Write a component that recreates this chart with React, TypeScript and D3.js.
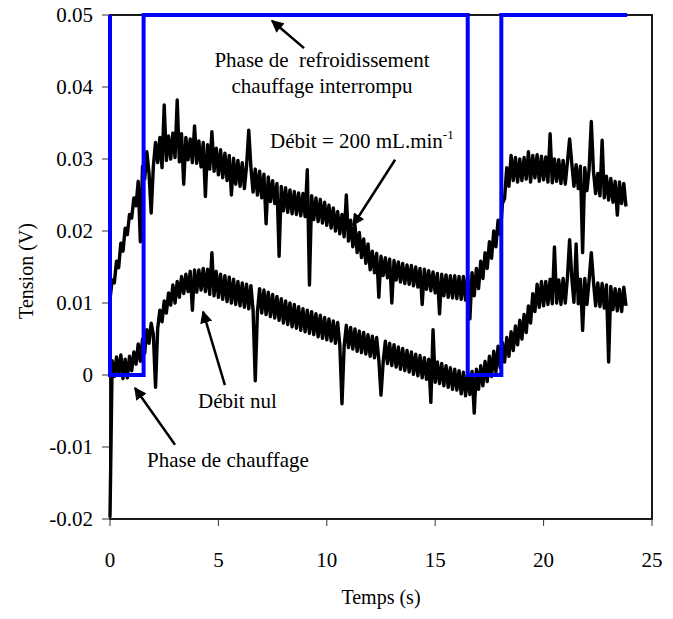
import React, { useEffect, useRef } from "react";
import * as d3 from "d3";

// sampling step of the recorded traces (s)
const step = 0.1;

// Débit = 200 mL/min, tension in mV
const flowSeries = [
  10.5, 13.2, 12.8, 15.8, 14.9, 18.3, 17.2, 20.4, 19.5, 22.3,
  21.8, 24.6, 23.5, 26.9, 18.5, 29.0, 27.2, 31.0, 28.0, 22.5,
  29.0, 32.3, 29.5, 33.0, 28.8, 37.5, 29.8, 33.2, 30.0, 33.6,
  30.2, 38.2, 29.6, 33.5, 26.5, 33.0, 29.9, 32.8, 29.5, 34.6,
  29.4, 32.5, 28.9, 32.3, 24.8, 32.0, 28.6, 33.8, 28.3, 31.5,
  27.8, 31.3, 27.4, 30.8, 27.0, 30.5, 25.0, 30.1, 26.5, 29.8,
  26.2, 29.5, 25.9, 29.1, 34.0, 28.8, 25.4, 28.6, 25.0, 28.3,
  24.6, 27.9, 21.0, 27.5, 24.1, 27.0, 23.8, 26.6, 16.5, 26.2,
  22.8, 26.0, 22.6, 25.7, 22.4, 25.5, 22.3, 25.3, 22.1, 25.2,
  22.0, 28.5, 12.5, 24.9, 21.6, 24.6, 21.3, 24.4, 21.1, 24.0,
  20.8, 23.6, 20.4, 23.2, 20.0, 22.7, 19.6, 22.3, 19.2, 25.0,
  18.6, 21.5, 17.8, 20.8, 17.0, 19.8, 16.3, 18.9, 15.5, 18.2,
  14.6, 17.2, 14.2, 16.9, 10.8, 16.5, 13.8, 16.3, 13.5, 16.1,
  10.0, 15.9, 13.2, 15.7, 12.9, 15.5, 12.7, 15.3, 12.6, 15.2,
  12.4, 15.0, 12.2, 14.8, 9.8, 14.7, 11.9, 14.5, 11.7, 14.3,
  11.4, 14.1, 8.5, 14.0, 11.0, 13.9, 10.8, 13.8, 10.7, 13.8,
  10.6, 13.7, 10.5, 13.7, 10.4, 13.8, 7.8, 14.2, 11.0, 14.8,
  12.0, 15.8, 13.4, 17.0, 14.8, 18.5, 16.2, 20.0, 17.8, 21.5,
  19.5, 23.8, 24.5, 28.8, 26.2, 30.5, 27.0, 30.2, 26.8, 30.0,
  27.0, 30.2, 27.2, 31.0, 26.8, 30.5, 27.4, 30.6, 26.9, 30.4,
  27.1, 30.3, 26.8, 33.5, 26.7, 30.0, 26.9, 29.9, 26.6, 29.8,
  26.5, 29.6, 32.8, 29.4, 26.2, 29.2, 25.9, 29.0, 17.0, 28.8,
  25.6, 28.6, 35.2, 28.3, 25.2, 28.0, 24.9, 32.6, 24.6, 27.6,
  24.3, 27.3, 24.0, 26.9, 22.2, 26.8, 23.8, 26.6, 23.4,
];

// Débit nul, tension in mV
const noFlowSeries = [
  -19.8, 2.0, -0.2, 2.5, 0.2, 2.8, -0.5, 2.2, -0.4, 2.6,
  0.6, 3.2, 1.5, 4.3, 1.9, 5.0, 3.0, 6.3, 4.4, 7.2,
  5.6, -1.7, 6.5, 9.0, 7.4, 10.3, 8.6, 11.4, 9.7, 12.5,
  10.0, 13.0, 10.8, 13.7, 11.3, 14.0, 11.6, 14.4, 9.0, 14.6,
  11.5, 14.6, 11.8, 14.8, 11.6, 14.7, 11.2, 17.0, 11.0, 14.4,
  10.8, 14.0, 10.5, 13.8, 10.2, 13.6, 10.0, 13.3, 9.8, 13.0,
  9.6, 12.8, 9.4, 12.6, 9.2, 12.4, 9.0, -0.8, 8.8, 12.0,
  8.6, 11.8, 8.4, 11.5, 8.1, 11.2, 7.9, 10.9, 7.6, 10.6,
  7.2, 10.3, 7.0, 10.0, 6.7, 9.8, 6.5, 9.5, 6.2, 9.2,
  6.0, 9.0, 5.8, 8.8, 5.6, 8.5, 5.3, 8.3, 5.1, 8.0,
  4.9, 7.8, 4.7, 7.5, 4.4, 7.3, 4.2, -4.0, 4.0, 6.9,
  3.8, 6.6, 3.6, 6.4, 3.3, 6.1, 3.1, 5.9, 2.9, 5.6,
  2.6, 5.4, 2.4, 5.2, 2.1, -2.8, 1.8, 4.7, 1.6, 4.4,
  1.3, 4.2, 1.1, 3.9, 0.8, 3.7, 0.6, 3.4, 0.4, 3.2,
  0.1, 2.9, -0.1, 2.7, -0.4, 2.4, -0.6, 2.2, -3.8, 6.3,
  -1.0, 1.8, -1.2, 1.6, -1.5, 1.3, -1.7, 1.0, -2.0, 0.8,
  -2.1, 0.6, -2.6, 0.4, -2.9, 0.3, -2.7, 0.5, -5.3, 0.8,
  -2.0, 1.3, -1.5, 1.9, -0.9, 2.6, -0.2, 3.3, 0.4, 4.0,
  1.0, 4.5, 1.8, 5.2, 2.6, 6.0, 3.4, 6.8, 4.2, 7.6,
  5.0, 8.4, 5.9, 9.6, 7.2, 11.3, 8.8, 12.6, 9.4, 13.0,
  9.6, 13.0, 9.8, 13.3, 9.9, 17.8, 10.0, 13.2, 9.8, 13.4,
  10.0, 13.6, 18.8, 13.5, 10.1, 18.2, 9.9, 13.3, 6.2, 13.4,
  9.8, 13.2, 17.0, 13.0, 9.6, 12.8, 9.5, 12.7, 9.3, 12.5,
  1.8, 12.3, 9.1, 12.0, 8.9, 11.9, 8.8, 12.2, 9.6,
];

// heating command (blue square signal)
const heaterTimes = [0, 0, 1.55, 1.55, 16.5, 16.5, 18.05, 18.05, 23.85];
const heaterValues = [0.05, 0, 0, 0.05, 0.05, 0, 0, 0.05, 0.05];

const xTicks = [0, 5, 10, 15, 20, 25];
const yTicks = [-0.02, -0.01, 0, 0.01, 0.02, 0.03, 0.04, 0.05];

// annotations in data units: text anchor + arrow (from -> to)
const labels = [
  { lines: ["Phase de  refroidissement", "chauffage interrompu"], t: 9.78, v: [0.0428, 0.0392], anchor: "middle" },
  { lines: ["Débit nul"], t: 4.06, v: [-0.0046], anchor: "start" },
  { lines: ["Phase de chauffage"], t: 1.71, v: [-0.0128], anchor: "start" },
];
const arrows = [
  { from: [8.95, 0.0454], to: [7.47, 0.0492] },
  { from: [13.15, 0.0299], to: [11.21, 0.0208] },
  { from: [5.3, -0.0014], to: [4.29, 0.0088] },
  { from: [3.0, -0.0097], to: [1.15, -0.0018] },
];

const font = "'Liberation Serif', 'Times New Roman', serif";

function App() {
  const svgRef = useRef(null);

  useEffect(() => {
    const width = 673;
    const height = 619;
    const margin = { top: 15, right: 21, bottom: 100, left: 110 };

    const svg = d3.select(svgRef.current);
    svg.selectAll("*").remove();

    const x = d3.scaleLinear().domain([0, 25]).range([margin.left, width - margin.right]);
    const y = d3.scaleLinear().domain([-0.02, 0.05]).range([height - margin.bottom, margin.top]);

    const [x0, x1] = x.range();
    const [y0, y1] = y.range();

    // arrow head
    svg.append("defs")
      .append("marker")
      .attr("id", "head")
      .attr("viewBox", "0 0 10 10")
      .attr("refX", 9)
      .attr("refY", 5)
      .attr("markerWidth", 5)
      .attr("markerHeight", 5)
      .attr("markerUnits", "strokeWidth")
      .attr("orient", "auto")
      .append("path")
      .attr("d", "M0,0 L10,5 L0,10 z")
      .attr("fill", "#000");

    // ---------------- frame ----------------
    svg.append("path")
      .attr("d", `M${x0},${y1} L${x1},${y1} L${x1},${y0} L${x0},${y0} Z`)
      .attr("fill", "none")
      .attr("stroke", "#1a1a1a")
      .attr("stroke-width", 2);

    // ---------------- ticks ----------------
    svg.selectAll(".xt")
      .data(xTicks)
      .enter()
      .append("line")
      .attr("x1", d => x(d))
      .attr("x2", d => x(d))
      .attr("y1", y0)
      .attr("y2", y0 + 7)
      .attr("stroke", "#333")
      .attr("stroke-width", 1);

    svg.selectAll(".xl")
      .data(xTicks)
      .enter()
      .append("text")
      .attr("x", d => x(d))
      .attr("y", y0 + 48)
      .attr("text-anchor", "middle")
      .attr("font-family", font)
      .attr("font-size", 21)
      .text(d => d);

    svg.selectAll(".yt")
      .data(yTicks)
      .enter()
      .append("line")
      .attr("x1", x0 - 8)
      .attr("x2", x0)
      .attr("y1", d => y(d))
      .attr("y2", d => y(d))
      .attr("stroke", "#333")
      .attr("stroke-width", 1);

    svg.selectAll(".yl")
      .data(yTicks)
      .enter()
      .append("text")
      .attr("x", x0 - 17)
      .attr("y", d => y(d))
      .attr("dy", "0.35em")
      .attr("text-anchor", "end")
      .attr("font-family", font)
      .attr("font-size", 21)
      .text(d => (Math.abs(d) < 1e-9 ? "0" : d.toFixed(2)));

    // ---------------- axis titles ----------------
    svg.append("text")
      .attr("x", (x0 + x1) / 2)
      .attr("y", y0 + 85)
      .attr("text-anchor", "middle")
      .attr("font-family", font)
      .attr("font-size", 20)
      .text("Temps (s)");

    svg.append("text")
      .attr("transform", `translate(33,${(y0 + y1) / 2 + 4}) rotate(-90)`)
      .attr("text-anchor", "middle")
      .attr("font-family", font)
      .attr("font-size", 20)
      .text("Tension (V)");

    // ---------------- traces ----------------
    const trace = d3.line()
      .x((d, i) => x(i * step))
      .y(d => y(d / 1000));

    [flowSeries, noFlowSeries].forEach(series => {
      svg.append("path")
        .datum(series)
        .attr("fill", "none")
        .attr("stroke", "#000")
        .attr("stroke-width", 3.4)
        .attr("stroke-linejoin", "round")
        .attr("d", trace);
    });

    // ---------------- heating signal ----------------
    const heater = d3.line()
      .x(d => x(d[0]))
      .y(d => y(d[1]));

    svg.append("path")
      .datum(heaterTimes.map((t, i) => [t, heaterValues[i]]))
      .attr("fill", "none")
      .attr("stroke", "#0000ff")
      .attr("stroke-width", 4)
      .attr("stroke-linejoin", "miter")
      .attr("d", heater);

    // ---------------- annotations ----------------
    labels.forEach(l => {
      l.lines.forEach((line, i) => {
        svg.append("text")
          .attr("x", x(l.t))
          .attr("y", y(l.v[i]))
          .attr("text-anchor", l.anchor)
          .attr("font-family", font)
          .attr("font-size", 21)
          .style("white-space", "pre")
          .text(line);
      });
    });

    const flowLabel = svg.append("text")
      .attr("x", x(7.38))
      .attr("y", y(0.0315))
      .attr("font-family", font)
      .attr("font-size", 21);
    flowLabel.append("tspan").text("Débit = 200 mL.min");
    flowLabel.append("tspan")
      .attr("dy", -9)
      .attr("font-size", 13)
      .text("-1");

    arrows.forEach(a => {
      svg.append("line")
        .attr("x1", x(a.from[0]))
        .attr("y1", y(a.from[1]))
        .attr("x2", x(a.to[0]))
        .attr("y2", y(a.to[1]))
        .attr("stroke", "#000")
        .attr("stroke-width", 2.5)
        .attr("marker-end", "url(#head)");
    });
  }, []);

  return (
    <svg
      ref={svgRef}
      width={673}
      height={619}
      style={{ position: "absolute", left: 0, top: 0, background: "#fff" }}
    />
  );
}

export default App;
